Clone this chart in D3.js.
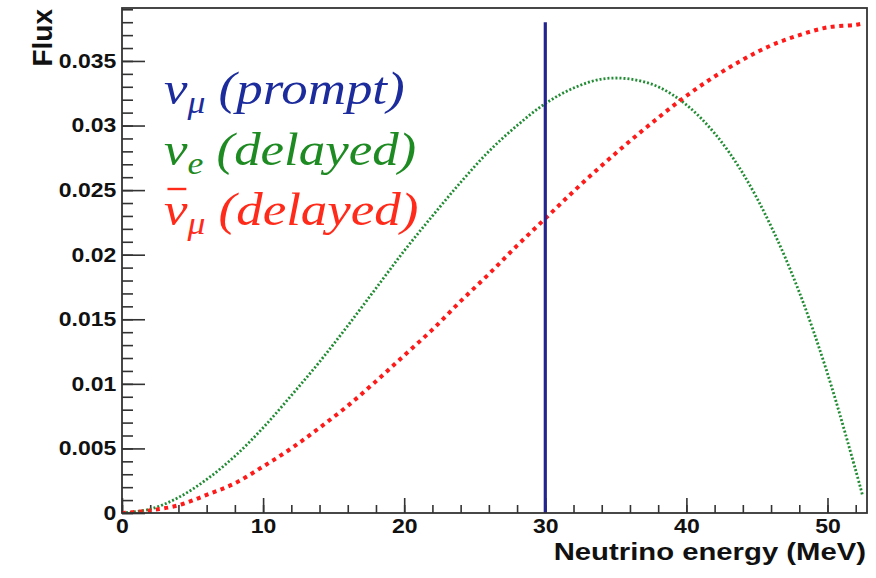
<!DOCTYPE html>
<html>
<head>
<meta charset="utf-8">
<script src="https://cdn.jsdelivr.net/npm/d3@7"></script>
<style>
  body { margin: 0; background: #fff; }
  text { font-family: "Liberation Sans", Arial, Helvetica, sans-serif; }
  text.legtext { font-family: "Liberation Serif", "DejaVu Serif", serif; font-style: italic; }
</style>
</head>
<body>
<div id="chart"></div>
<script>
// energies in MeV, every 2 MeV
var energy = [0, 2, 4, 6, 8, 10, 12, 14, 16, 18, 20, 22, 24, 26, 28, 30,
    32, 34, 36, 38, 40, 42, 44, 46, 48, 50, 52, 52.5]

// nu_e (delayed), green dotted
var nueFlux = [0, 0.0003, 0.0012, 0.0026, 0.0044, 0.0066, 0.0091, 0.0117, 0.0145,
    0.0174, 0.0203, 0.0230, 0.0256, 0.0280, 0.0300, 0.0317, 0.0329, 0.0336,
    0.0336, 0.0330, 0.0316, 0.0294, 0.0263, 0.0222, 0.0171, 0.0108, 0.0033, 0.0013]

// anti nu_mu (delayed), red dashed
var numubarFlux = [0, 0.0002, 0.0006, 0.0014, 0.0023, 0.0036, 0.0050, 0.0066, 0.0083,
    0.0102, 0.0122, 0.0142, 0.0164, 0.0185, 0.0207, 0.0228, 0.0249, 0.0269,
    0.0288, 0.0306, 0.0323, 0.0338, 0.0351, 0.0362, 0.0370, 0.0376, 0.0378, 0.0379]

// nu_mu (prompt), monochromatic line
var promptEnergy = [30]
var promptFlux = [0.038]

var xTicks = [0, 10, 20, 30, 40, 50]
var yTicks = [0, 0.005, 0.01, 0.015, 0.02, 0.025, 0.03, 0.035]

var legendLabels = [
    { sym: "\u03bd", bar: false, sub: "\u03bc", txt: "(prompt)", color: "#1c2c9c" },
    { sym: "\u03bd", bar: false, sub: "e", txt: "(delayed)", color: "#1e8a22" },
    { sym: "\u03bd", bar: true, sub: "\u03bc", txt: "(delayed)", color: "#ff2a1a" }
]

var width = 876,
    height = 578
var margin = { top: 8, right: 9, bottom: 65, left: 122 }
var stretch = 1.15   // text in the picture is a bit wider than tall

var svg = d3.select("#chart")
    .append("svg")
    .attr("width", width)
    .attr("height", height)

svg.append("rect").attr("width", width).attr("height", height).attr("fill", "#fff")

var x = d3.scaleLinear()
    .domain([0, 52.8])
    .range([margin.left, width - margin.right])

var y = d3.scaleLinear()
    .domain([0, 0.0391])
    .range([height - margin.bottom, margin.top])

// minor ticks
svg.append("g")
    .attr("transform", "translate(0," + y(0) + ")")
    .call(d3.axisBottom(x).tickValues(d3.range(0, 52.81, 2)).tickSize(-8).tickFormat(""))
    .call(g => g.select(".domain").remove())
svg.append("g")
    .attr("transform", "translate(" + x(0) + ",0)")
    .call(d3.axisLeft(y).tickValues(d3.range(0, 0.0391, 0.001)).tickSize(-11).tickFormat(""))
    .call(g => g.select(".domain").remove())

// major ticks + labels
var fmt = function (d) { return d === 0 ? "0" : String(+d.toFixed(3)) }

var xAxis = svg.append("g")
    .attr("transform", "translate(0," + y(0) + ")")
    .call(d3.axisBottom(x).tickValues(xTicks).tickSize(-15).tickPadding(6).tickFormat(d3.format("d")))
var yAxis = svg.append("g")
    .attr("transform", "translate(" + x(0) + ",0)")
    .call(d3.axisLeft(y).tickValues(yTicks).tickSize(-23).tickPadding(5).tickFormat(fmt))

svg.selectAll(".domain").remove()
svg.selectAll(".tick line").attr("stroke", "#333").attr("stroke-width", 1.6)
svg.selectAll(".tick text")
    .attr("fill", "#111")
    .style("font-size", "20px")
    .style("font-weight", "bold")
    .attr("transform", "scale(" + stretch + ",1)")

// curves
var clip = svg.append("clipPath").attr("id", "plotclip")
    .append("rect")
    .attr("x", x(0)).attr("y", y(0.0391))
    .attr("width", x(52.8) - x(0)).attr("height", y(0) - y(0.0391))

var plot = svg.append("g").attr("clip-path", "url(#plotclip)")

var line = d3.line().curve(d3.curveCatmullRom.alpha(0.5))

plot.append("path")
    .attr("d", line(energy.map((e, i) => [x(e), y(nueFlux[i])])))
    .attr("fill", "none")
    .attr("stroke", "#228c34")
    .attr("stroke-width", 2.8)
    .attr("stroke-dasharray", "2,2")

plot.append("path")
    .attr("d", line(energy.map((e, i) => [x(e), y(numubarFlux[i])])))
    .attr("fill", "none")
    .attr("stroke", "#ff1a1a")
    .attr("stroke-width", 4)
    .attr("stroke-dasharray", "4,4.5")

plot.selectAll("line.prompt")
    .data(promptEnergy)
    .enter()
    .append("line")
    .attr("class", "prompt")
    .attr("x1", d => x(d)).attr("x2", d => x(d))
    .attr("y1", y(0))
    .attr("y2", (d, i) => y(promptFlux[i]))
    .attr("stroke", "#24248e")
    .attr("stroke-width", 3.2)

// frame
svg.append("rect")
    .attr("x", x(0)).attr("y", y(0.0391))
    .attr("width", x(52.8) - x(0)).attr("height", y(0) - y(0.0391))
    .attr("fill", "none")
    .attr("stroke", "#333")
    .attr("stroke-width", 1.8)

// axis titles
svg.append("text")
    .attr("transform", "translate(866,560) scale(1.22,1)")
    .attr("text-anchor", "end")
    .style("font-size", "24px")
    .style("font-weight", "bold")
    .attr("fill", "#111")
    .text("Neutrino energy (MeV)")

svg.append("text")
    .attr("transform", "translate(52,9) rotate(-90)")
    .attr("text-anchor", "end")
    .style("font-size", "28px")
    .style("font-weight", "bold")
    .attr("fill", "#111")
    .text("Flux")

// legend text
var legend = svg.selectAll("g.leg")
    .data(legendLabels)
    .enter()
    .append("g")
    .attr("class", "leg")
    .attr("transform", (d, i) => "translate(164," + (104 + i * 60.5) + ") scale(" + stretch + ",1)")

var legText = legend.append("text")
    .attr("class", "legtext")
    .attr("fill", d => d.color)
    .style("font-size", "46px")

legText.append("tspan").attr("class", "sym").text(d => d.sym)
legText.append("tspan").attr("dy", 9).style("font-size", "31px").text(d => d.sub)
legText.append("tspan").attr("dy", -9).text(d => "\u00a0" + d.txt)

// bar over the anti-neutrino symbol
legend.filter(d => d.bar).each(function (d) {
    var g = d3.select(this)
    var nuW = g.select("tspan.sym").node().getComputedTextLength()
    g.append("line")
        .attr("x1", 3).attr("x2", nuW - 1)
        .attr("y1", -36).attr("y2", -36)
        .attr("stroke", d.color)
        .attr("stroke-width", 2.4)
})
</script>
</body>
</html>
